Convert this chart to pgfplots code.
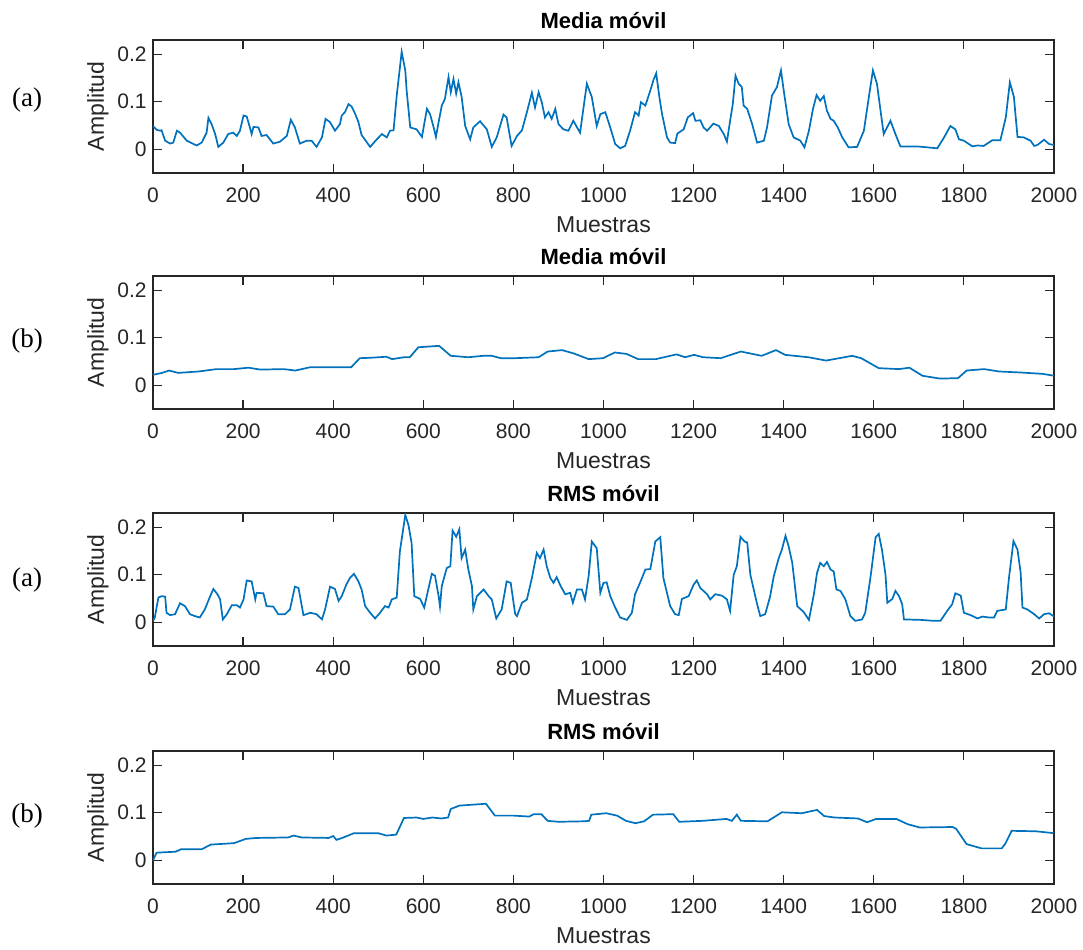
\documentclass[border=0pt]{standalone}
\usepackage{fontspec}
\setmainfont{Liberation Sans}
\newfontfamily\seriffont{Liberation Serif}
\usepackage{pgfplots}
\pgfplotsset{compat=1.18}

\definecolor{axgray}{RGB}{38,38,38}
\definecolor{mblue}{RGB}{0,114,189}

\tikzset{tag/.style={font=\seriffont\fontsize{13.5}{15}\selectfont, text=black}}

\pgfplotsset{
  panel/.style={
    scale only axis,
    width=450.5pt, height=66.5pt,
    xmin=0, xmax=2000, ymin=-0.05, ymax=0.23,
    xtick={0,200,...,2000}, ytick={0,0.1,0.2},
    scaled ticks=false,
    clip mode=individual,
    /pgf/number format/1000 sep={},
    /pgf/number format/assume math mode=true,
    tick align=inside, xtick pos=both, ytick pos=both,
    major tick length=4.5pt,
    axis line style={axgray, line width=0.6pt},
    every tick/.style={axgray, line width=0.6pt},
    tick label style={font=\fontsize{10.5}{12}\selectfont, text=axgray},
    xticklabel style={anchor=base, inner sep=0pt, yshift=-14.5pt},
    yticklabel style={anchor=east, inner sep=0pt, xshift=-3pt},
    xlabel={Muestras}, ylabel={Amplitud},
    label style={font=\fontsize{11.5}{13}\selectfont, text=axgray},
    xlabel style={at={(axis description cs:0.5,0)}, anchor=base, yshift=-29.8pt},
    ylabel style={at={(axis description cs:-0.061,0.5)}, anchor=center},
    title style={at={(axis description cs:0.5,1)}, anchor=base, yshift=-0.1pt,
                 font=\bfseries\fontsize{11}{13}\selectfont, text=black},
    cycle list={{mblue, mark=none}},
    every axis plot post/.append style={mblue, line width=0.85pt, mark=none},
  },
}

\begin{document}
\begin{tikzpicture}
\useasboundingbox (0,0) rectangle (541.5pt,-474.5pt);

% Media movil, signal (a)
\begin{axis}[panel, at={(76.5pt,-20pt)}, anchor=north west, title={Media móvil}]
\addplot coordinates {
(0,0.049) (8,0.041) (16,0.039) (19,0.040) (27,0.018) (38,0.012) (45,0.014) (53,0.039)
(60,0.035) (75,0.018) (90,0.011) (97,0.008) (108,0.014) (119,0.035) (123,0.066) (130,0.053)
(138,0.032) (145,0.005) (156,0.014) (167,0.032) (178,0.035) (186,0.028) (193,0.039) (201,0.071)
(208,0.069) (215,0.046) (219,0.032) (223,0.047) (234,0.046) (241,0.028) (252,0.030) (267,0.012)
(282,0.016) (297,0.028) (306,0.062) (315,0.046) (326,0.012) (341,0.018) (352,0.018) (363,0.005)
(375,0.025) (383,0.064) (393,0.057) (404,0.039) (415,0.053) (419,0.071) (426,0.078) (434,0.095)
(441,0.090) (449,0.074) (456,0.057) (463,0.030) (482,0.005) (497,0.021) (508,0.032) (519,0.025)
(526,0.039) (534,0.040) (541,0.113) (552,0.205) (560,0.166) (563,0.124) (571,0.046) (585,0.042)
(597,0.026) (608,0.085) (615,0.074) (623,0.046) (628,0.026) (634,0.057) (641,0.092) (648,0.106)
(656,0.152) (661,0.120) (667,0.148) (673,0.117) (678,0.141) (685,0.111) (693,0.049) (704,0.021)
(711,0.046) (726,0.059) (741,0.042) (752,0.005) (763,0.025) (778,0.073) (785,0.067) (796,0.007)
(808,0.028) (819,0.040) (830,0.078) (841,0.119) (848,0.088) (856,0.120) (863,0.099) (870,0.067)
(878,0.078) (885,0.064) (893,0.085) (900,0.053) (911,0.042) (922,0.039) (933,0.060) (948,0.035)
(963,0.138) (974,0.110) (985,0.049) (993,0.074) (1004,0.078) (1015,0.046) (1026,0.011) (1037,0.002)
(1048,0.007) (1059,0.039) (1070,0.078) (1078,0.071) (1083,0.099) (1093,0.092) (1104,0.124) (1111,0.146)
(1117,0.160) (1124,0.110) (1130,0.074) (1141,0.025) (1148,0.014) (1159,0.013) (1164,0.033) (1178,0.042)
(1187,0.067) (1199,0.076) (1204,0.060) (1215,0.061) (1222,0.046) (1230,0.039) (1244,0.054) (1256,0.049)
(1267,0.032) (1274,0.016) (1281,0.060) (1287,0.095) (1293,0.155) (1300,0.138) (1307,0.131) (1311,0.092)
(1319,0.085) (1330,0.053) (1341,0.014) (1356,0.018) (1363,0.046) (1374,0.113) (1385,0.131) (1394,0.166)
(1400,0.124) (1411,0.053) (1422,0.025) (1437,0.018) (1446,0.004) (1456,0.039) (1465,0.085) (1473,0.114)
(1481,0.102) (1489,0.112) (1496,0.081) (1504,0.064) (1511,0.060) (1520,0.046) (1530,0.025) (1544,0.004)
(1563,0.005) (1578,0.039) (1589,0.110) (1598,0.166) (1607,0.138) (1615,0.081) (1622,0.032) (1637,0.060)
(1648,0.032) (1659,0.006) (1696,0.006) (1719,0.004) (1741,0.002) (1756,0.025) (1770,0.049) (1781,0.042)
(1789,0.021) (1800,0.018) (1819,0.006) (1830,0.008) (1844,0.007) (1863,0.019) (1881,0.019) (1893,0.067)
(1902,0.141) (1911,0.110) (1919,0.026) (1933,0.025) (1948,0.018) (1956,0.007) (1963,0.009) (1978,0.020)
(1989,0.011) (2000,0.009)
};
\node[tag] at (axis description cs:-0.1398,0.55) {(a)};
\end{axis}

% Media movil, signal (b)
\begin{axis}[panel, at={(76.5pt,-138pt)}, anchor=north west, title={Media móvil}]
\addplot coordinates {
(0,0.022) (20,0.026) (36,0.031) (56,0.026) (101,0.029) (141,0.034) (180,0.034) (212,0.037)
(238,0.033) (290,0.034) (316,0.031) (349,0.038) (401,0.038) (420,0.038) (440,0.038) (459,0.057)
(485,0.058) (518,0.060) (531,0.055) (557,0.059) (570,0.059) (589,0.080) (635,0.083) (661,0.062)
(700,0.059) (733,0.062) (752,0.062) (772,0.057) (804,0.057) (856,0.059) (876,0.071) (908,0.074)
(934,0.067) (967,0.055) (999,0.057) (1025,0.069) (1051,0.066) (1077,0.055) (1116,0.055) (1162,0.065)
(1181,0.059) (1201,0.064) (1221,0.059) (1260,0.057) (1305,0.071) (1351,0.062) (1383,0.074) (1403,0.064)
(1455,0.059) (1494,0.052) (1552,0.062) (1572,0.057) (1611,0.036) (1656,0.034) (1679,0.037) (1708,0.020)
(1747,0.014) (1787,0.015) (1806,0.031) (1845,0.034) (1878,0.029) (1923,0.027) (1975,0.024) (2000,0.020)
};
\node[tag] at (axis description cs:-0.1398,0.51) {(b)};
\end{axis}

% RMS movil, signal (a)
\begin{axis}[panel, at={(76.5pt,-256.5pt)}, anchor=north west, title={RMS móvil}]
\addplot coordinates {
(0,0.003) (4,0.010) (12,0.052) (19,0.055) (27,0.054) (30,0.020) (38,0.015) (49,0.017)
(60,0.040) (71,0.034) (82,0.017) (93,0.013) (104,0.010) (115,0.027) (127,0.055) (134,0.070)
(143,0.059) (149,0.048) (155,0.006) (164,0.017) (175,0.036) (186,0.036) (193,0.031) (201,0.048)
(208,0.088) (219,0.086) (227,0.048) (230,0.062) (245,0.061) (252,0.034) (267,0.033) (278,0.017)
(293,0.017) (304,0.027) (315,0.075) (323,0.072) (334,0.015) (349,0.020) (363,0.017) (375,0.006)
(382,0.027) (393,0.075) (404,0.070) (412,0.045) (419,0.055) (429,0.079) (437,0.093) (446,0.102)
(456,0.086) (463,0.069) (471,0.034) (482,0.020) (493,0.008) (504,0.020) (515,0.034) (523,0.031)
(530,0.048) (541,0.052) (548,0.149) (560,0.226) (567,0.205) (574,0.167) (580,0.055) (593,0.049)
(602,0.031) (611,0.069) (619,0.102) (626,0.098) (634,0.055) (637,0.033) (641,0.076) (652,0.114)
(660,0.118) (665,0.193) (673,0.180) (680,0.196) (685,0.135) (693,0.153) (700,0.111) (708,0.076)
(711,0.027) (719,0.055) (734,0.069) (745,0.055) (752,0.048) (762,0.008) (774,0.027) (785,0.086)
(794,0.083) (804,0.017) (808,0.013) (819,0.041) (830,0.048) (841,0.093) (852,0.146) (859,0.135)
(867,0.153) (874,0.118) (882,0.093) (889,0.083) (896,0.095) (905,0.076) (915,0.059) (926,0.062)
(932,0.041) (941,0.069) (952,0.069) (959,0.048) (967,0.097) (974,0.170) (985,0.156) (993,0.062)
(1000,0.083) (1007,0.084) (1015,0.055) (1026,0.031) (1037,0.010) (1052,0.005) (1063,0.020) (1070,0.059)
(1081,0.083) (1093,0.111) (1104,0.112) (1115,0.170) (1126,0.179) (1133,0.093) (1148,0.034) (1159,0.017)
(1167,0.015) (1174,0.049) (1189,0.055) (1200,0.079) (1207,0.088) (1215,0.072) (1230,0.059) (1237,0.048)
(1248,0.059) (1263,0.056) (1274,0.048) (1281,0.024) (1289,0.100) (1296,0.118) (1304,0.180) (1313,0.170)
(1319,0.168) (1326,0.100) (1341,0.038) (1348,0.013) (1359,0.017) (1370,0.055) (1378,0.097) (1389,0.135)
(1396,0.153) (1404,0.182) (1411,0.160) (1419,0.125) (1430,0.034) (1444,0.022) (1456,0.005) (1467,0.059)
(1474,0.104) (1481,0.125) (1489,0.118) (1496,0.127) (1504,0.111) (1511,0.107) (1517,0.069) (1526,0.066)
(1537,0.048) (1548,0.013) (1559,0.003) (1574,0.006) (1581,0.020) (1593,0.097) (1604,0.179) (1611,0.186)
(1618,0.153) (1626,0.100) (1630,0.041) (1641,0.049) (1648,0.066) (1656,0.055) (1663,0.038) (1667,0.006)
(1704,0.005) (1733,0.003) (1748,0.003) (1763,0.024) (1774,0.038) (1781,0.061) (1793,0.056) (1800,0.020)
(1815,0.015) (1830,0.008) (1841,0.012) (1856,0.010) (1867,0.010) (1874,0.024) (1893,0.027) (1900,0.093)
(1910,0.171) (1919,0.153) (1926,0.104) (1930,0.031) (1941,0.027) (1956,0.017) (1967,0.008) (1978,0.017)
(1989,0.019) (2000,0.012)
};
\node[tag] at (axis description cs:-0.1398,0.50) {(a)};
\end{axis}

% RMS movil, signal (b)
\begin{axis}[panel, at={(76.5pt,-375.5pt)}, anchor=north west, title={RMS móvil}]
\addplot coordinates {
(0,0.000) (8,0.016) (50,0.018) (62,0.023) (108,0.023) (128,0.033) (180,0.036) (206,0.045)
(230,0.047) (300,0.048) (312,0.052) (330,0.048) (390,0.047) (400,0.051) (407,0.043) (420,0.047)
(446,0.057) (500,0.057) (518,0.052) (540,0.054) (557,0.089) (585,0.090) (600,0.087) (620,0.090)
(640,0.088) (655,0.090) (661,0.108) (680,0.115) (739,0.119) (759,0.094) (800,0.094) (835,0.092)
(845,0.097) (862,0.097) (876,0.083) (900,0.081) (955,0.082) (968,0.083) (973,0.096) (1006,0.099)
(1030,0.094) (1050,0.083) (1071,0.078) (1090,0.082) (1110,0.096) (1155,0.097) (1168,0.081) (1220,0.083)
(1273,0.087) (1285,0.083) (1296,0.096) (1305,0.083) (1364,0.082) (1396,0.101) (1440,0.099) (1474,0.106)
(1490,0.093) (1513,0.090) (1565,0.088) (1585,0.080) (1605,0.087) (1650,0.087) (1675,0.076) (1702,0.069)
(1775,0.070) (1783,0.066) (1806,0.034) (1839,0.025) (1884,0.025) (1892,0.035) (1906,0.062) (1960,0.061)
(2000,0.057)
};
\node[tag] at (axis description cs:-0.1398,0.515) {(b)};
\end{axis}
\end{tikzpicture}
\end{document}
